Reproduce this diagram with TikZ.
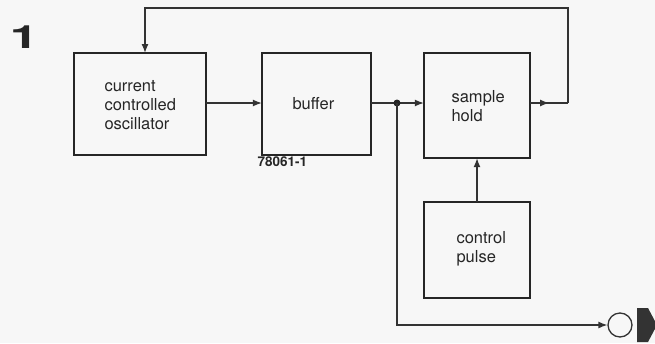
\documentclass[tikz,border=0pt]{standalone}
\usepackage{fontspec}
\setmainfont{TeX Gyre Heros}
\usetikzlibrary{arrows.meta,decorations.markings}
\begin{document}
\begin{tikzpicture}[x=1pt,y=-1pt,
  blk/.style={draw=black!85,line width=2.6pt,minimum width=#1,inner sep=0pt},
  wire/.style={draw=black!80,line width=1.3pt},
  midarr/.style={postaction={decorate},decoration={markings,mark=at position #1 with {\arrow{Latex[length=9pt,width=7pt]}}}},
  lbl/.style={font=\fontsize{16.5}{19}\selectfont,align=left,anchor=west,text=black!85}
]
\useasboundingbox (0,0) rectangle (655,343);
\fill[black!3] (0,0) rectangle (655,343);
\node[font=\bfseries\fontsize{32}{32}\selectfont,text=black!85,inner sep=0pt] (num) at (24,37) {\scalebox{1.6}[1]{1}};
% boxes
\draw[blk] (74,53) rectangle (206,155);
\node (b1) at (140,104) [minimum width=132pt,minimum height=102pt] {};
\draw[blk] (262,53) rectangle (371,155);
\node (b2) at (316.5,104) [minimum width=109pt,minimum height=102pt] {};
\draw[blk] (424,53) rectangle (530,158);
\node (b3) at (477,105.5) [minimum width=106pt,minimum height=105pt] {};
\draw[blk] (424,202) rectangle (530,298);
\node (b4) at (477,250) [minimum width=106pt,minimum height=96pt] {};
% texts
\node[lbl] (t1) at (101,105) {current\\controlled\\oscillator};
\node[lbl] (t2) at (289,104) {buffer};
\node[lbl] (t3) at (448,106) {sample\\hold};
\node[lbl] (t4) at (453,249) {control\\pulse};
\node[font=\bfseries\fontsize{13.5}{13.5}\selectfont,anchor=west,text=black!85] (code) at (254,162) {78061-1};
% coordinates
\coordinate (j) at (397,103);
\coordinate (fr) at (568,103);
\coordinate (o1) at (397,325);
\node[draw=black!80,line width=1.3pt,circle,minimum size=24pt,inner sep=0pt] (out) at (620,325) {};
% connectors
\draw[wire,-{Latex[length=9pt,width=7pt]}] (b1.east|-j) -- (b2.west|-j);
\draw[wire] (b2.east|-j) -- (j);
\draw[wire,-{Latex[length=9pt,width=7pt]}] (j) -- (b3.west|-j);
\fill[black!85] (j) circle (3.5pt);
\draw[wire,midarr=0.5] (b3.east|-j) -- (fr);
\draw[wire,-{Latex[length=9pt,width=7pt]}] (fr) -- (568,8) -- (145,8) -- (145,53);
\draw[wire,-{Latex[length=9pt,width=7pt]}] (b4.north) -- (b3.south);
\draw[wire,-{Latex[length=9pt,width=7pt]}] (j) -- (o1) -- (out.west);
\fill[black!80] (637,308) -- (648,308) -- (657,325) -- (648,342) -- (637,342) -- cycle;
\end{tikzpicture}
\end{document}
